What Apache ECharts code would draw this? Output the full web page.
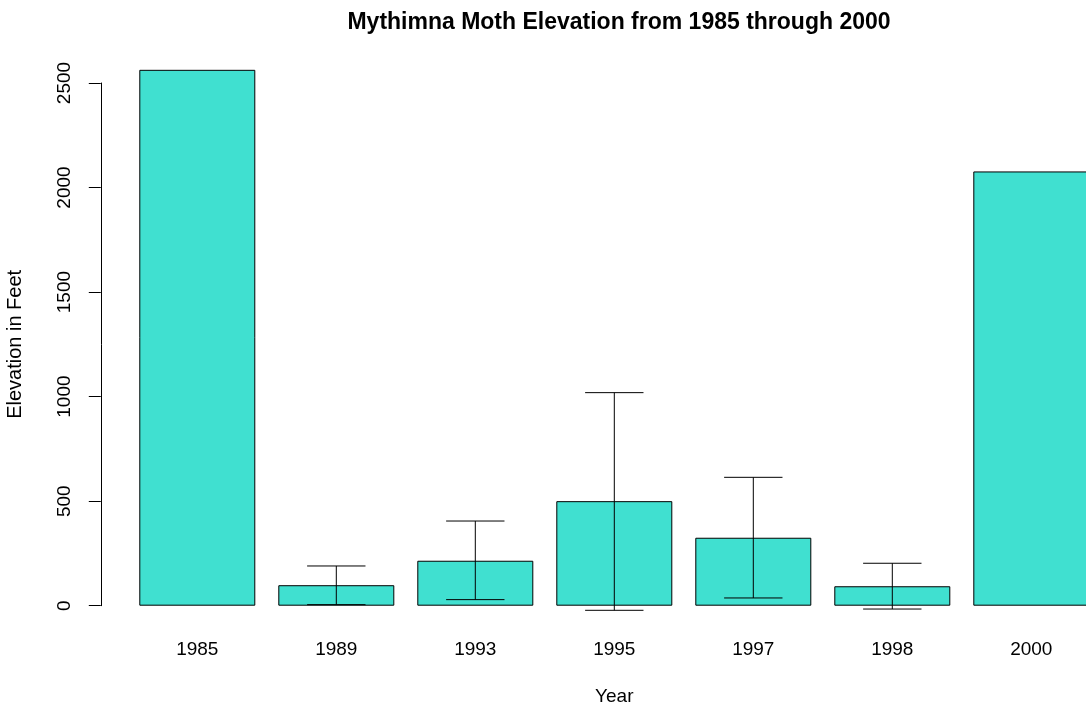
<!DOCTYPE html>
<html>
<head>
<meta charset="utf-8">
<script src="https://cdn.jsdelivr.net/npm/echarts@6/dist/echarts.min.js"></script>
<style>
  html, body { margin: 0; padding: 0; background: #fff; }
  #chart { width: 1086px; height: 706px; }
</style>
</head>
<body>
<div id="chart"></div>
<script>
// values
const years = ['1985', '1989', '1993', '1995', '1997', '1998', '2000']
const meanElev = [2563, 98, 215, 500, 325, 93, 2077]
const errLow = [null, 5, 29, -22, 37, -16, null]
const errHigh = [null, 190, 405, 1019, 614, 203, null]
const yTicks = [0, 500, 1000, 1500, 2000, 2500]

const font = "'Liberation Sans', Arial, Helvetica, sans-serif"

const errData = years.map((y, i) => [i, errLow[i], errHigh[i]])
  .filter(d => d[1] !== null)

const chart = echarts.init(document.getElementById('chart'))

const option = {
  animation: false,
  backgroundColor: '#fff',
  title: {
    text: 'Mythimna Moth Elevation from 1985 through 2000',
    left: 614,
    top: 6,
    textAlign: 'center',
    textStyle: { fontFamily: font, fontSize: 23, fontWeight: 'bold', color: '#000' }
  },
  grid: {
    left: 127.8,
    width: 973,
    top: 83,
    bottom: 100.3,
    outerBoundsMode: 'none',
    containLabel: false
  },
  xAxis: {
    type: 'category',
    data: years,
    axisLine: { show: false },
    axisTick: { show: false },
    axisLabel: { margin: 35, fontFamily: font, fontSize: 19, color: '#000' },
    name: 'Year',
    nameLocation: 'middle',
    nameGap: 82,
    nameTextStyle: { fontFamily: font, fontSize: 19, color: '#000' }
  },
  yAxis: {
    type: 'value',
    min: yTicks[0],
    max: yTicks[yTicks.length - 1],
    interval: 500,
    offset: 27,
    splitLine: { show: false },
    axisLine: { show: true, lineStyle: { color: '#000', width: 1 } },
    axisTick: { show: true, length: 12, lineStyle: { color: '#000', width: 1 } },
    axisLabel: {
      rotate: 90,
      margin: 27,
      fontFamily: font,
      fontSize: 19,
      color: '#000',
      formatter: v => String(v)
    },
    name: 'Elevation in Feet',
    nameLocation: 'middle',
    nameRotate: 90,
    nameGap: 75,
    nameTextStyle: { fontFamily: font, fontSize: 20, color: '#000' }
  },
  series: [
    {
      type: 'bar',
      data: meanElev,
      barWidth: 116,
      clip: false,
      itemStyle: { color: '#40E0D0', borderColor: '#000', borderWidth: 1 }
    },
    {
      type: 'custom',
      data: errData,
      clip: false,
      z: 10,
      encode: { x: 0, y: [1, 2] },
      renderItem: function (params, api) {
        const idx = api.value(0)
        const lo = api.coord([idx, api.value(1)])
        const hi = api.coord([idx, api.value(2)])
        const half = api.size([1, 0])[0] * 0.21
        const st = { stroke: '#000', lineWidth: 1 }
        return {
          type: 'group',
          children: [
            { type: 'line', shape: { x1: lo[0], y1: lo[1], x2: hi[0], y2: hi[1] }, style: st },
            { type: 'line', shape: { x1: hi[0] - half, y1: hi[1], x2: hi[0] + half, y2: hi[1] }, style: st },
            { type: 'line', shape: { x1: lo[0] - half, y1: lo[1], x2: lo[0] + half, y2: lo[1] }, style: st }
          ]
        }
      }
    }
  ]
}

chart.setOption(option)
</script>
</body>
</html>
